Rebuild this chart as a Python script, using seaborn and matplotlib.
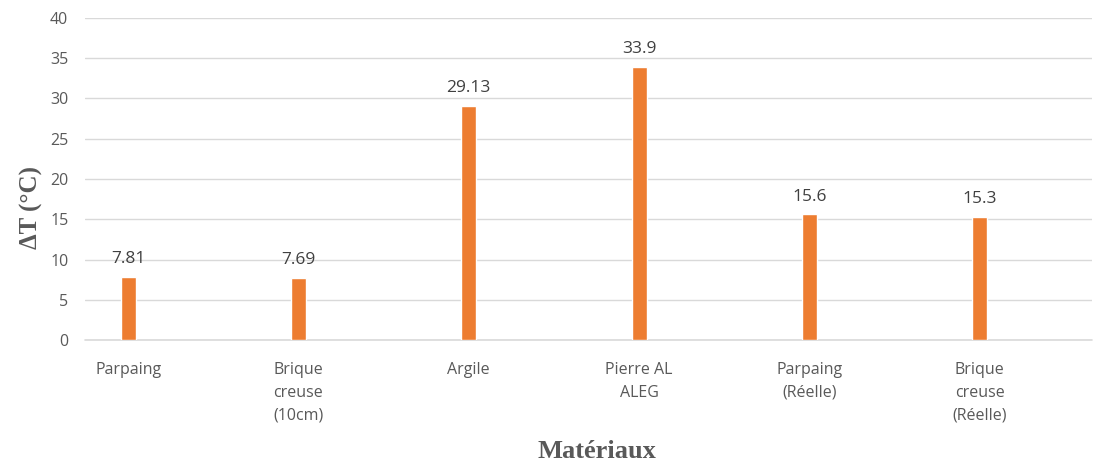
import pandas as pd
import seaborn as sns
import matplotlib.pyplot as plt

materials = ['Parpaing', 'Brique\ncreuse\n(10cm)', 'Argile', 'Pierre AL\nALEG',
             'Parpaing\n(Réelle)', 'Brique\ncreuse\n(Réelle)']
delta_t = [7.81, 7.69, 29.13, 33.9, 15.6, 15.3]
value_labels = ['7.81', '7.69', '29.13', '33.9', '15.6', '15.3']

df = pd.DataFrame({'materiau': materials, 'dt': delta_t})

sns.set_theme(style='white')
plt.rcParams['font.family'] = ['Open Sans', 'DejaVu Sans']
grey = '#595959'

fig = plt.figure(figsize=(10.97, 4.65), dpi=100)
ax = fig.add_axes([0.0775, 0.2688, 0.918, 0.6925])

sns.barplot(data=df, x='materiau', y='dt', color='#ED7D31', saturation=1,
            width=0.088, ax=ax, zorder=3)

ax.set_ylim(0, 40)
ax.set_yticks(range(0, 41, 5))
ax.set_xlim(-0.253, 5.66)
ax.yaxis.grid(True, color='#D9D9D9', linewidth=1, zorder=0)
ax.axhline(0, color='#D9D9D9', linewidth=1.2, clip_on=False, zorder=1)
ax.set_axisbelow(True)
for s in ax.spines.values():
    s.set_visible(False)

ax.tick_params(axis='both', length=0, colors=grey, labelsize=11.5)
ax.tick_params(axis='y', pad=12)
ax.tick_params(axis='x', pad=16)
for lab in ax.get_xticklabels():
    lab.set_linespacing(1.55)
    lab.set_verticalalignment('top')

ax.bar_label(ax.containers[0], labels=value_labels, padding=7, color='#404040', fontsize=12.5)

ax.set_ylabel('ΔT (°C)', family='Liberation Serif', fontweight='bold', fontsize=18,
              color=grey)
ax.yaxis.set_label_coords(-0.042, 0.41)
ax.set_xlabel('Matériaux', family='Liberation Serif', fontweight='bold', fontsize=19,
              color=grey)
ax.xaxis.set_label_coords(0.508, -0.31)

fig.savefig('out.png', dpi=100)
